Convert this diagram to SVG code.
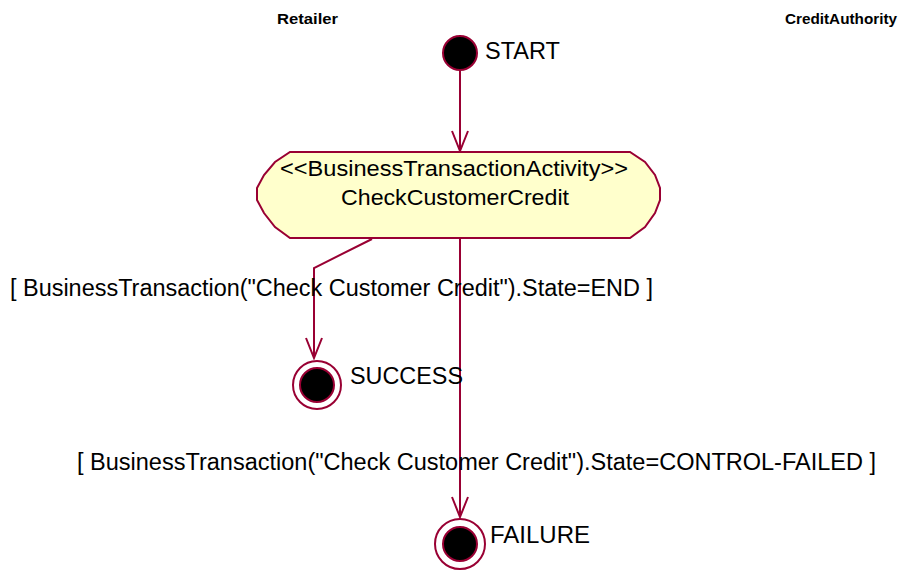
<svg xmlns="http://www.w3.org/2000/svg" width="900" height="571" viewBox="0 0 900 571">
<style>
.t{font-family:"Liberation Sans",Arial,sans-serif;fill:#000}
.h{font-size:14px;font-weight:bold}
.l{font-size:23px}
.g{font-size:22px}
.c{fill:none;stroke:#990033;stroke-width:2}
.ring{fill:#fff;stroke:#990033;stroke-width:2}
.dot{fill:#000;stroke:#990033;stroke-width:2}
</style>
<defs>
<marker id="v" markerUnits="userSpaceOnUse" markerWidth="24" markerHeight="20" viewBox="-22 -10 24 20" refX="0" refY="0" orient="auto">
<path d="M-20,-8 L0,0 L-20,8" fill="none" stroke="#990033" stroke-width="2"/>
</marker>
</defs>
<rect width="900" height="571" fill="#fff"/>
<text class="t h" x="277" y="24" textLength="61" lengthAdjust="spacingAndGlyphs">Retailer</text>
<text class="t h" x="785" y="24" textLength="112" lengthAdjust="spacingAndGlyphs">CreditAuthority</text>
<g id="connectors">
<path class="c" d="M460,71 L460,151" marker-end="url(#v)"/>
<path class="c" d="M372,239 L314,268 L314,358" marker-end="url(#v)"/>
<path class="c" d="M460,239 L460,517" marker-end="url(#v)"/>
</g>
<g id="start">
<circle class="dot" cx="460" cy="53" r="17"/>
<text class="t l" x="485" y="59" textLength="75" lengthAdjust="spacingAndGlyphs">START</text>
</g>
<g id="activity">
<path d="M290,152 L630,152 L645,162 L655,175 L660,188 L660,200 L655,213 L645,227 L630,238 L290,238 L275,227 L264,213 L257,200 L257,188 L264,175 L275,162 Z" fill="#ffffcc" stroke="#990033" stroke-width="2"/>
<text class="t g" x="454" y="176" text-anchor="middle" textLength="348" lengthAdjust="spacingAndGlyphs">&lt;&lt;BusinessTransactionActivity&gt;&gt;</text>
<text class="t g" x="455" y="205" text-anchor="middle" textLength="228" lengthAdjust="spacingAndGlyphs">CheckCustomerCredit</text>
</g>
<g id="guard-end">
<text class="t l" x="10" y="296" textLength="643" lengthAdjust="spacingAndGlyphs">[ BusinessTransaction("Check Customer Credit").State=END ]</text>
</g>
<g id="success">
<circle class="ring" cx="317" cy="385" r="24"/>
<circle class="dot" cx="317" cy="385" r="17"/>
<text class="t l" x="350" y="384" textLength="113" lengthAdjust="spacingAndGlyphs">SUCCESS</text>
</g>
<g id="guard-failed">
<text class="t l" x="77" y="470" textLength="799" lengthAdjust="spacingAndGlyphs">[ BusinessTransaction("Check Customer Credit").State=CONTROL-FAILED ]</text>
</g>
<g id="failure">
<circle class="ring" cx="460" cy="544" r="25"/>
<circle class="dot" cx="460" cy="544" r="17"/>
<text class="t l" x="490" y="543" textLength="100" lengthAdjust="spacingAndGlyphs">FAILURE</text>
</g>
</svg>
